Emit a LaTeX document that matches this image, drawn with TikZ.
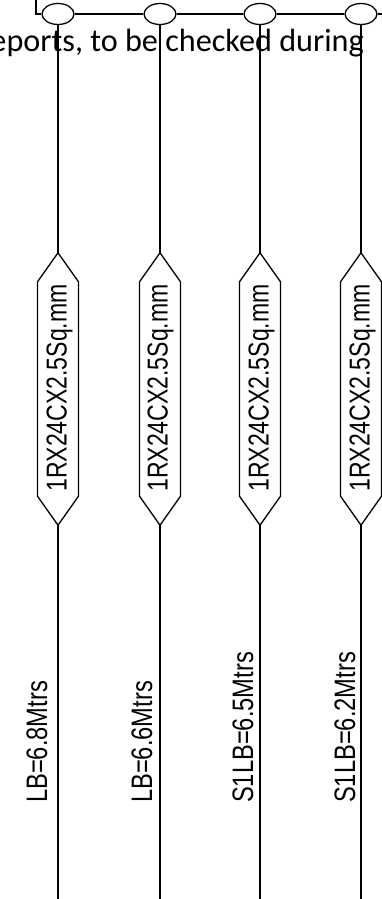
\documentclass[tikz,border=0pt]{standalone}
\usepackage{fontspec}
\setmainfont{Liberation Sans}
\newfontfamily\notefont{Carlito}
\newfontfamily\labelfont[FakeStretch=0.8]{Liberation Sans}
\usetikzlibrary{shapes.geometric,calc}
\tikzset{
  wire/.style={draw=black,line width=1.3pt},
  lug/.style={ellipse,draw=black,fill=white,line width=1.3pt,minimum width=32pt,minimum height=21pt,inner sep=0pt},
  hexslot/.style={rectangle,minimum width=41pt,minimum height=272pt,inner sep=0pt},
  hexline/.style={draw=black,line width=1.3pt,line join=miter},
  cabletext/.style={rotate=90,inner sep=0pt,font=\labelfont\fontsize{28.8}{30}\selectfont,anchor=center},
  lengthtext/.style={rotate=90,inner sep=0pt,font=\labelfont\fontsize{29.6}{31}\selectfont,anchor=west},
  notetext/.style={inner sep=0pt,font=\notefont\fontsize{32.2}{35}\selectfont,anchor=base east}
}
\newcommand{\hexoutline}[1]{%
  \draw[hexline] (#1.north) -- ($(#1.north)+(20.5,29)$) -- ($(#1.south)+(20.5,-29)$) -- (#1.south)
    -- ($(#1.south)+(-20.5,-29)$) -- ($(#1.north)+(-20.5,29)$) -- cycle;}
\begin{document}
\begin{tikzpicture}[x=1pt,y=-1pt]
\useasboundingbox (0,0) rectangle (382,899);
\clip (0,0) rectangle (382,899);
\fill[white] (0,0) rectangle (382,899);
% note text sits behind the wires
\node[notetext] (note) at (364,52) {eports, to be checked during};
% lugs
\node[lug] (e1) at (58,14) {};
\node[lug] (e2) at (160,14) {};
\node[lug] (e3) at (260,14) {};
\node[lug] (e4) at (361,14) {};
\coordinate (corner) at (36,14);
\coordinate (top) at (36,-2);
\coordinate (right) at (384,14);
\draw[wire] (top) -- (corner) -- (e1.west);
\draw[wire] (e1) -- (e2);
\draw[wire] (e2) -- (e3);
\draw[wire] (e3) -- (e4);
\draw[wire] (e4.east) -- (right);
% cable slots
\node[hexslot] (h1) at (58,389) {};
\node[hexslot] (h2) at (160,389) {};
\node[hexslot] (h3) at (260,389) {};
\node[hexslot] (h4) at (361,389) {};
\foreach \i in {1,2,3,4}{
  \coordinate (b\i) at ($(h\i.south)+(0,376)$);
  \draw[wire] (e\i.south) -- (h\i.north);
  \hexoutline{h\i}
  \draw[wire] (h\i.south) -- (b\i);
}
% cable labels
\node[cabletext] (c1) at (59.5,388) {1RX24CX2.5Sq.mm};
\node[cabletext] (c2) at (160.5,388) {1RX24CX2.5Sq.mm};
\node[cabletext] (c3) at (261.5,388) {1RX24CX2.5Sq.mm};
\node[cabletext] (c4) at (362.5,388) {1RX24CX2.5Sq.mm};
% length labels
\node[lengthtext] (l1) at (37,803) {LB=6.8Mtrs};
\node[lengthtext] (l2) at (142,803) {LB=6.6Mtrs};
\node[lengthtext] (l3) at (243,803) {S1LB=6.5Mtrs};
\node[lengthtext] (l4) at (345,803) {S1LB=6.2Mtrs};
\end{tikzpicture}
\end{document}
